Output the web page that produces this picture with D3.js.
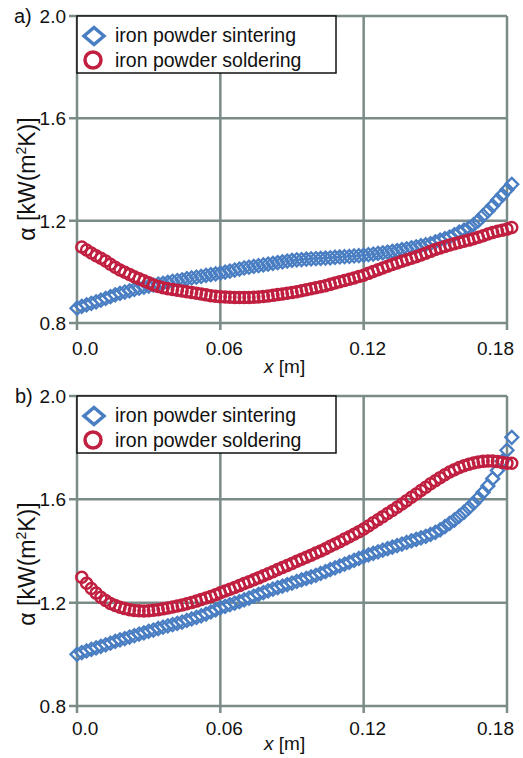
<!DOCTYPE html>
<html>
<head>
<meta charset="utf-8">
<script src="https://cdn.jsdelivr.net/npm/d3@7"></script>
<style>
  body { margin: 0; background: #fff; }
  svg { display: block; font-family: "Liberation Sans", Arial, sans-serif; }
</style>
</head>
<body>
<svg id="chart"></svg>
<script>
// chart size
const width = 523,
      height = 758;

// position along the channel, m
const xPos = [0.000,0.002,0.004,0.006,0.008,0.010,0.012,0.014,0.016,0.018,
              0.020,0.022,0.024,0.026,0.028,0.030,0.032,0.034,0.036,0.038,
              0.040,0.042,0.044,0.046,0.048,0.050,0.052,0.054,0.056,0.058,
              0.060,0.062,0.064,0.066,0.068,0.070,0.072,0.074,0.076,0.078,
              0.080,0.082,0.084,0.086,0.088,0.090,0.092,0.094,0.096,0.098,
              0.100,0.102,0.104,0.106,0.108,0.110,0.112,0.114,0.116,0.118,
              0.120,0.122,0.124,0.126,0.128,0.130,0.132,0.134,0.136,0.138,
              0.140,0.142,0.144,0.146,0.148,0.150,0.152,0.154,0.156,0.158,
              0.160,0.162,0.164,0.166,0.168,0.170,0.172,0.174,0.176,0.178,
              0.180,0.182];

// panel a) heat transfer coefficient, kW/(m2K)
const sinterA = [0.858,0.865,0.871,0.877,0.883,0.889,0.896,0.903,0.910,0.916,
                 0.921,0.926,0.931,0.936,0.940,0.944,0.948,0.952,0.955,0.959,
                 0.963,0.966,0.969,0.973,0.976,0.979,0.982,0.986,0.989,0.992,
                 0.995,0.999,1.003,1.007,1.011,1.015,1.018,1.021,1.024,1.027,
                 1.030,1.033,1.036,1.039,1.042,1.045,1.047,1.048,1.050,1.051,
                 1.052,1.053,1.054,1.055,1.057,1.058,1.059,1.060,1.062,1.063,
                 1.065,1.067,1.069,1.072,1.074,1.077,1.080,1.083,1.087,1.090,
                 1.094,1.098,1.102,1.106,1.110,1.117,1.124,1.130,1.136,1.145,
                 1.155,1.163,1.172,1.185,1.200,1.220,1.238,1.258,1.280,1.300,
                 1.321,1.342];

const solderA = [null, 1.097,1.085,1.074,1.063,1.053,1.042,1.030,1.018,1.007,
                 0.998,0.990,0.981,0.973,0.965,0.957,0.949,0.943,0.938,0.934,
                 0.931,0.928,0.925,0.922,0.919,0.916,0.913,0.910,0.907,0.905,
                 0.903,0.902,0.901,0.900,0.900,0.900,0.900,0.901,0.902,0.904,
                 0.906,0.908,0.911,0.913,0.916,0.919,0.922,0.926,0.930,0.934,
                 0.938,0.942,0.946,0.951,0.956,0.961,0.966,0.971,0.976,0.982,
                 0.987,0.994,1.001,1.008,1.015,1.022,1.029,1.035,1.041,1.047,
                 1.053,1.059,1.066,1.073,1.080,1.087,1.093,1.099,1.105,1.110,
                 1.115,1.120,1.124,1.129,1.135,1.141,1.148,1.154,1.159,1.163,
                 1.167,1.173];

// panel b)
const sinterB = [1.000,1.007,1.013,1.019,1.025,1.031,1.037,1.043,1.050,1.056,
                 1.061,1.067,1.072,1.078,1.083,1.089,1.094,1.100,1.105,1.110,
                 1.115,1.120,1.125,1.131,1.137,1.143,1.149,1.156,1.164,1.172,
                 1.180,1.186,1.192,1.198,1.204,1.211,1.218,1.225,1.232,1.239,
                 1.246,1.252,1.258,1.264,1.270,1.276,1.282,1.288,1.294,1.300,
                 1.306,1.313,1.320,1.328,1.335,1.342,1.349,1.356,1.364,1.371,
                 1.378,1.385,1.391,1.397,1.403,1.409,1.415,1.421,1.427,1.433,
                 1.439,1.445,1.451,1.457,1.464,1.472,1.482,1.494,1.507,1.520,
                 1.535,1.550,1.567,1.585,1.605,1.627,1.652,1.680,1.712,1.748,
                 1.790,1.840];

const solderB = [null, 1.298,1.275,1.255,1.237,1.221,1.208,1.197,1.189,1.182,
                 1.177,1.173,1.170,1.169,1.168,1.169,1.171,1.173,1.176,1.179,
                 1.183,1.187,1.191,1.196,1.201,1.206,1.212,1.218,1.224,1.231,
                 1.238,1.245,1.252,1.259,1.266,1.274,1.281,1.289,1.296,1.304,
                 1.312,1.320,1.328,1.336,1.344,1.352,1.360,1.368,1.376,1.384,
                 1.392,1.400,1.409,1.418,1.427,1.436,1.446,1.455,1.465,1.475,
                 1.485,1.497,1.509,1.521,1.533,1.545,1.557,1.569,1.582,1.595,
                 1.608,1.621,1.634,1.647,1.660,1.672,1.684,1.695,1.706,1.715,
                 1.723,1.730,1.736,1.741,1.745,1.747,1.748,1.748,1.746,1.743,
                 1.740,1.740];

// axes / labels
const xTicks = [0, 0.06, 0.12, 0.18];
const xTickLabels = ['0.0', '0.06', '0.12', '0.18'];
const yTicks = [0.8, 1.2, 1.6, 2.0];
const seriesNames = ['iron powder sintering', 'iron powder soldering'];

const gridColor = '#7b8b88',
      blue = '#4a7ec3',
      red = '#c01f40';

const svg = d3.select('#chart')
              .attr('width', width)
              .attr('height', height);

svg.append('rect').attr('width', width).attr('height', height).attr('fill', '#fff');

// the two panels share the x range
const xscale = d3.scaleLinear()
                 .domain([0, 0.18])
                 .range([77, 507]);

const diamond = 'M0,-6.5L6.5,0L0,6.5L-6.5,0Z';

drawPanel({ top: 16, bottom: 323, tag: 'a)', tagX: 14, sinter: sinterA, solder: solderA,
            tickY: 355, labelY: 373, ylabelY: 179 });
drawPanel({ top: 396, bottom: 706, tag: 'b)', tagX: 15, sinter: sinterB, solder: solderB,
            tickY: 735, labelY: 750, ylabelY: 564 });

function drawPanel(p) {
  const g = svg.append('g');

  const yscale = d3.scaleLinear()
                   .domain([0.8, 2.0])
                   .range([p.bottom, p.top]);

  // horizontal grid + outward ticks
  g.append('g').selectAll('line')
    .data(yTicks)
    .enter().append('line')
    .attr('x1', xscale(0) - 8)
    .attr('x2', xscale(0.18))
    .attr('y1', d => yscale(d))
    .attr('y2', d => yscale(d))
    .attr('stroke', gridColor)
    .attr('stroke-width', 2.5);

  // vertical grid + outward ticks
  g.append('g').selectAll('line')
    .data(xTicks)
    .enter().append('line')
    .attr('x1', d => xscale(d))
    .attr('x2', d => xscale(d))
    .attr('y1', yscale(2.0))
    .attr('y2', yscale(0.8) + 7)
    .attr('stroke', gridColor)
    .attr('stroke-width', 2.5);

  // y tick labels
  g.append('g').selectAll('text')
    .data(yTicks)
    .enter().append('text')
    .attr('x', xscale(0) - 11)
    .attr('y', d => yscale(d) + 7)
    .attr('text-anchor', 'end')
    .attr('font-size', '19px')
    .attr('fill', '#111')
    .text(d => d.toFixed(1));

  // x tick labels (first and last kept inside the picture)
  g.append('g').selectAll('text')
    .data(xTicks)
    .enter().append('text')
    .attr('x', (d, i) => i == 0 ? xscale(d) - 5 : i == xTicks.length - 1 ? xscale(d) + 7 : xscale(d) + 4)
    .attr('y', p.tickY)
    .attr('text-anchor', (d, i) => i == 0 ? 'start' : i == xTicks.length - 1 ? 'end' : 'middle')
    .attr('font-size', '19px')
    .attr('fill', '#111')
    .text((d, i) => xTickLabels[i]);

  // panel tag
  g.append('text')
    .attr('x', p.tagX)
    .attr('y', p.top + 7)
    .attr('font-size', '20px')
    .attr('fill', '#111')
    .text(p.tag);

  // x label
  const xl = g.append('text')
    .attr('x', 264)
    .attr('y', p.labelY)
    .attr('font-size', '19px')
    .attr('fill', '#111');
  xl.append('tspan').attr('font-style', 'italic').text('x');
  xl.append('tspan').text(' [m]');

  // y label
  const yl = g.append('text')
    .attr('transform', 'translate(35,' + p.ylabelY + ') rotate(-90)')
    .attr('text-anchor', 'middle')
    .attr('font-size', '23px')
    .attr('fill', '#111');
  yl.append('tspan').text('α [kW(m');
  yl.append('tspan').attr('font-size', '14px').attr('dy', -9).text('2');
  yl.append('tspan').attr('dy', 9).text('K)]');

  // sintering series
  const sData = xPos.map((x, i) => ({ x: x, v: p.sinter[i] })).filter(d => d.v != null);
  g.append('g').selectAll('path')
    .data(sData)
    .enter().append('path')
    .attr('d', diamond)
    .attr('transform', d => 'translate(' + xscale(d.x) + ',' + yscale(d.v) + ')')
    .attr('fill', 'none')
    .attr('stroke', blue)
    .attr('stroke-width', 2.3);

  // soldering series
  const lData = xPos.map((x, i) => ({ x: x, v: p.solder[i] })).filter(d => d.v != null);
  g.append('g').selectAll('circle')
    .data(lData)
    .enter().append('circle')
    .attr('cx', d => xscale(d.x))
    .attr('cy', d => yscale(d.v))
    .attr('r', 5.5)
    .attr('fill', 'none')
    .attr('stroke', red)
    .attr('stroke-width', 2.5);

  // legend
  const lg = g.append('g');
  lg.append('rect')
    .attr('x', xscale(0))
    .attr('y', p.top)
    .attr('width', 259)
    .attr('height', 57)
    .attr('fill', '#fff')
    .attr('stroke', '#111')
    .attr('stroke-width', 1.5);

  lg.append('path')
    .attr('d', 'M0,-8.5L10,0L0,8.5L-10,0Z')
    .attr('transform', 'translate(94,' + (p.top + 20) + ')')
    .attr('fill', 'none')
    .attr('stroke', blue)
    .attr('stroke-width', 3.5);

  lg.append('circle')
    .attr('cx', 93)
    .attr('cy', p.top + 44)
    .attr('r', 8)
    .attr('fill', 'none')
    .attr('stroke', red)
    .attr('stroke-width', 3.5);

  lg.selectAll('.legtext')
    .data(seriesNames)
    .enter().append('text')
    .attr('class', 'legtext')
    .attr('x', 115)
    .attr('y', (d, i) => p.top + 26 + i * 25)
    .attr('font-size', '19.5px')
    .attr('fill', '#111')
    .text(d => d);
}
</script>
</body>
</html>
